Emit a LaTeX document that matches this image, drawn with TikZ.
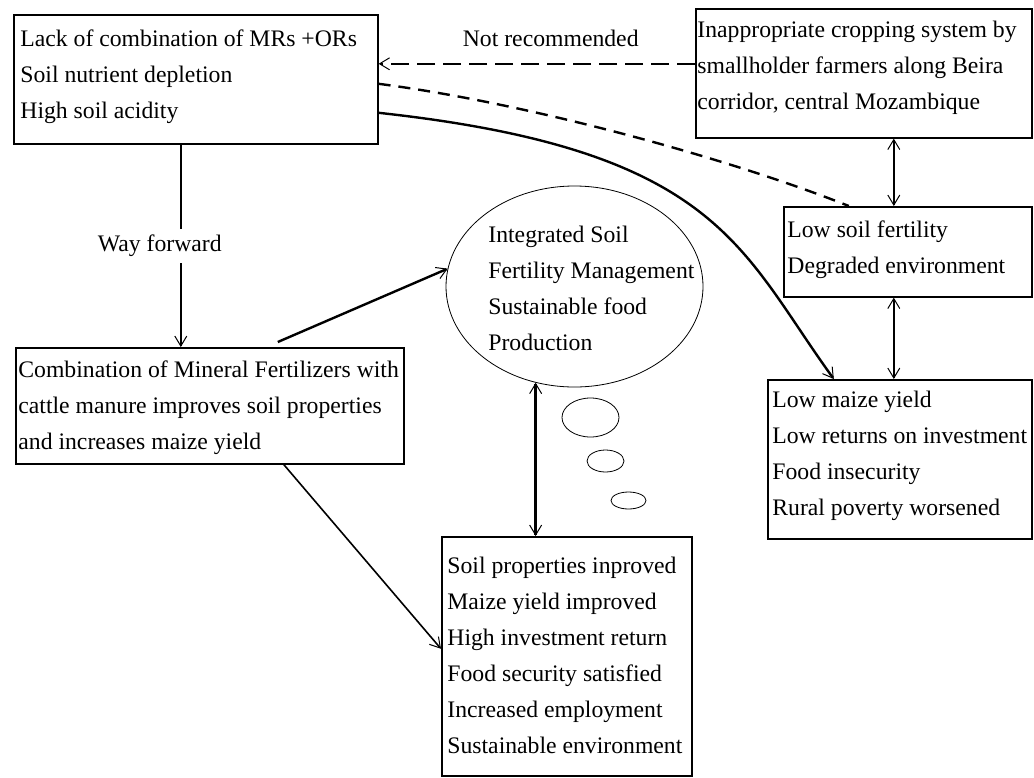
\documentclass[tikz,border=0pt]{standalone}
\usepackage{fontspec}
\setmainfont{Liberation Serif}
\usetikzlibrary{arrows.meta}
\usetikzlibrary{shapes.geometric}

\tikzset{
  box/.style={draw, line width=0.8pt, inner sep=0pt, anchor=north west},
  txt/.style={anchor=north west, inner sep=0pt, align=left, font=\fontsize{11.85}{18}\selectfont},
  lbl/.style={inner sep=0pt, font=\fontsize{11.85}{18}\selectfont},
  link/.style={line width=1.2pt},
  dashlink/.style={line width=1.2pt, dash pattern=on 9pt off 4pt},
  >={Straight Barb[length=5pt,width=6pt,line width=0.5pt]}
}

\begin{document}
\begin{tikzpicture}[x=0.5pt,y=-0.5pt]
\useasboundingbox (0,0) rectangle (1034,777);
% boxes
\node[box, minimum width=182pt, minimum height=64.5pt] (lack) at (13,14) {};
\node[box, minimum width=168pt, minimum height=64.5pt] (crop) at (695,8) {};
\node[box, minimum width=124pt, minimum height=45pt] (lowfert) at (783,206) {};
\node[box, minimum width=132pt, minimum height=79.5pt] (lowyield) at (767,379) {};
\node[box, minimum width=194pt, minimum height=58pt] (combo) at (15,347) {};
\node[box, minimum width=125pt, minimum height=119.5pt] (result) at (441,536) {};
\node[draw, ellipse, line width=0.4pt, inner sep=0pt, minimum width=128.5pt, minimum height=100.5pt] (isfm) at (574.5,286.5) {};
% thought bubbles
\draw[line width=0.4pt] (590.5,417.5) ellipse [x radius=14.25pt, y radius=9.75pt];
\draw[line width=0.4pt] (605.5,461) ellipse [x radius=9.25pt, y radius=5.5pt];
\draw[line width=0.4pt] (628.5,500.5) ellipse [x radius=8.75pt, y radius=4.25pt];
% texts
\node[txt] (lacktext) at (20,29.6) {Lack of combination of MRs +ORs\\Soil nutrient depletion\\High soil acidity};
\node[txt] (croptext) at (697,20.6) {Inappropriate cropping system by\\smallholder farmers along Beira\\corridor, central Mozambique};
\node[txt] (lowferttext) at (787,220.6) {Low soil fertility\\Degraded environment};
\node[txt] (lowyieldtext) at (772,390.6) {Low maize yield\\Low returns on investment\\Food insecurity\\Rural poverty worsened};
\node[txt] (combotext) at (18,360.6) {Combination of Mineral Fertilizers with\\cattle manure improves soil properties\\and increases maize yield};
\node[txt] (resulttext) at (447,556.6) {Soil properties inproved\\Maize yield improved\\High investment return\\Food security satisfied\\Increased employment\\Sustainable environment};
\node[txt] (isfmtext) at (488,225.6) {Integrated Soil\\Fertility Management\\Sustainable food\\Production};
% connectors
\draw[dashlink,->] ([shift={(0,-9.5)}]crop.west) -- ([shift={(0,-9.5)}]crop.west -| lack.east)
  node[lbl, pos=0.456, above=8pt] (notrec) {Not recommended};
\draw[link, dash pattern=on 6pt off 4pt] ([shift={(0,4.5)}]lack.east) .. controls (527,103) and (728,158) .. ([shift={(-59,0)}]lowfert.north);
\draw[link,->] ([shift={(0,33.5)}]lack.east) .. controls (720,150) and (740,250) .. ([shift={(-66,0)}]lowyield.north);
\draw[link,<->] ([shift={(30,0)}]crop.south) coordinate (bc) -- (bc |- lowfert.north);
\draw[link,<->] ([shift={(-14,0)}]lowfert.south) coordinate (cd) -- (cd |- lowyield.north);
\draw[link,->] ([shift={(-15,0)}]lack.south) coordinate (wf) -- (wf |- combo.north)
  node[lbl, pos=0.502, xshift=-10.5pt, fill=white, inner xsep=0pt, inner ysep=3pt] (wayfwd) {Way forward};
\draw[link,->] ([shift={(68,-5)}]combo.north) -- (isfm.172);
\draw[link,<->] (isfm.248) -- (isfm.248 |- result.north);
\draw[line width=0.8pt,->] ([shift={(74,0)}]combo.south) -- ([shift={(0,-7.5)}]result.west);
\end{tikzpicture}
\end{document}
